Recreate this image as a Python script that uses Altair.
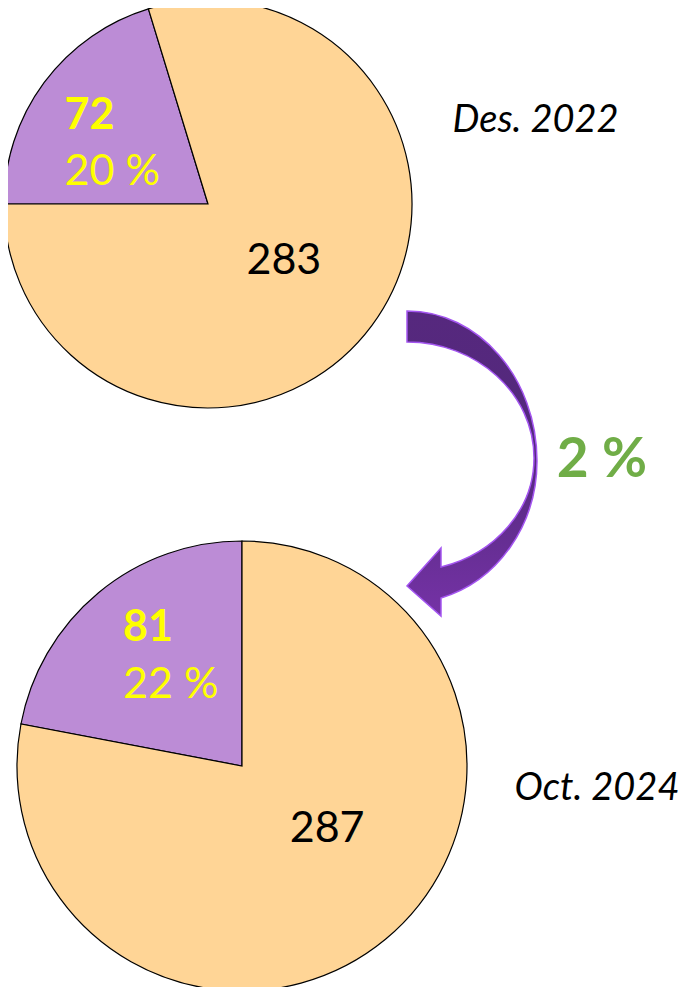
import altair as alt
import pandas as pd
import math

# ---------------- data ----------------
categories = ["Kelompok ungu", "Kelompok oranye"]
values_des2022 = [72, 283]
values_oct2024 = [81, 287]
period_labels = ["Des. 2022", "Oct. 2024"]

# ---------------- style ----------------
slice_colors = ["#BC8CD6", "#FFD596"]
FONT = "Lato"
YELLOW = "#FFFF00"
W, H = 671, 979

color_enc = alt.Color("cat:N", scale=alt.Scale(domain=categories, range=slice_colors), legend=None)


def pie(vals, order, cx, cy, r, theta_range, lab):
    df = pd.DataFrame({"cat": categories, "value": vals, "ord": order})
    base = (
        alt.Chart(df)
        .transform_joinaggregate(total="sum(value)")
        .transform_calculate(pct="round(datum.value / datum.total * 100) + ' %'")
        .transform_calculate(num_p=f"datum.cat == '{categories[0]}' ? '' + datum.value : ''")
        .transform_calculate(pct_p=f"datum.cat == '{categories[0]}' ? datum.pct : ''")
        .transform_calculate(num_o=f"datum.cat == '{categories[1]}' ? '' + datum.value : ''")
        .encode(
            theta=alt.Theta("value:Q", stack=True, scale=alt.Scale(range=theta_range)),
            order=alt.Order("ord:Q"),
            x=alt.value(cx),
            y=alt.value(cy),
        )
    )
    arcs = base.mark_arc(outerRadius=r, stroke="black", strokeWidth=1.2).encode(color=color_enc)
    t_num = base.mark_text(
        radius=lab["rp"], align="left", baseline="alphabetic", dx=lab["dxp"], dy=lab["dyn"],
        font=FONT, fontSize=43, fontWeight="bold", color=YELLOW,
    ).encode(text="num_p:N")
    t_pct = base.mark_text(
        radius=lab["rp"], align="left", baseline="alphabetic", dx=lab["dxp"], dy=lab["dyp"],
        font=FONT, fontSize=43, color=YELLOW,
    ).encode(text="pct_p:N")
    t_o = base.mark_text(
        radius=lab["ro"], align="center", baseline="alphabetic", dx=lab["dxo"], dy=lab["dyo"],
        font=FONT, fontSize=43, color="black",
    ).encode(text="num_o:N")
    return alt.layer(arcs, t_num, t_pct, t_o)


top = pie(values_des2022, [0, 1], 200, 196, 204, [1.5 * math.pi, 3.5 * math.pi],
          dict(rp=125, dxp=-43, dyn=-1, dyp=55, ro=100, dxo=-4.5, dyo=11))
bottom = pie(values_oct2024, [1, 0], 234, 758, 225, [0, 2 * math.pi],
             dict(rp=130, dxp=-36, dyn=-25, dyp=32, ro=110, dxo=15, dyo=-9))

# ---------------- curved arrow (decoration) ----------------
def P(x, y):
    return f"{(x - 472) / 152.5:.4f},{(y - 463.5) / 152.5:.4f}"

arrow_path = (
    "M" + P(407, 311)
    + "C" + P(478.8, 311) + " " + P(537, 378.2) + " " + P(537, 461)
    + "C" + P(537, 525.1) + " " + P(497.6, 581.2) + " " + P(441, 598)
    + "L" + P(441, 616) + "L" + P(407, 586) + "L" + P(441, 548) + "L" + P(441, 567)
    + "C" + P(496.1, 553.4) + " " + P(534, 508.9) + " " + P(534, 458)
    + "C" + P(534, 393.9) + " " + P(477.1, 342) + " " + P(407, 342)
    + "Z"
)
grad = alt.Gradient(
    gradient="linear",
    stops=[
        alt.GradientStop(color="#56287E", offset=0),
        alt.GradientStop(color="#53297C", offset=0.45),
        alt.GradientStop(color="#7532A6", offset=1),
    ],
    x1=0, x2=0, y1=0, y2=1,
)
one = pd.DataFrame({"k": [0]})
arrow = alt.Chart(one).mark_point(
    shape=arrow_path, size=305 ** 2, filled=True, fill=grad, stroke="#A455F0",
    strokeWidth=1.5, opacity=1,
).encode(x=alt.value(464), y=alt.value(455.5))

# ---------------- static texts ----------------
change = round(values_oct2024[0] / sum(values_oct2024) * 100) - round(values_des2022[0] / sum(values_des2022) * 100)
change_label = f"{change} %"

lbl_top = alt.Chart(one).mark_text(
    text=period_labels[0], font=FONT, fontSize=38, fontStyle="italic", align="center",
    baseline="alphabetic", color="black",
).encode(x=alt.value(527.5), y=alt.value(124))
lbl_bot = alt.Chart(one).mark_text(
    text=period_labels[1], font=FONT, fontSize=38, fontStyle="italic", align="center",
    baseline="alphabetic", color="black",
).encode(x=alt.value(589), y=alt.value(792))
lbl_chg = alt.Chart(one).mark_text(
    text=change_label, font=FONT, fontSize=55, fontWeight="bold", align="center",
    baseline="alphabetic", color="#70AD47",
).encode(x=alt.value(594), y=alt.value(469))

chart = (
    alt.layer(top, bottom, arrow, lbl_top, lbl_bot, lbl_chg)
    .resolve_scale(theta="independent")
    .properties(width=W, height=H, padding=0, autosize=alt.AutoSizeParams(type="none"))
    .configure_view(stroke=None)
)

chart.save("out.html", embed_options={"renderer": "svg", "actions": False})
